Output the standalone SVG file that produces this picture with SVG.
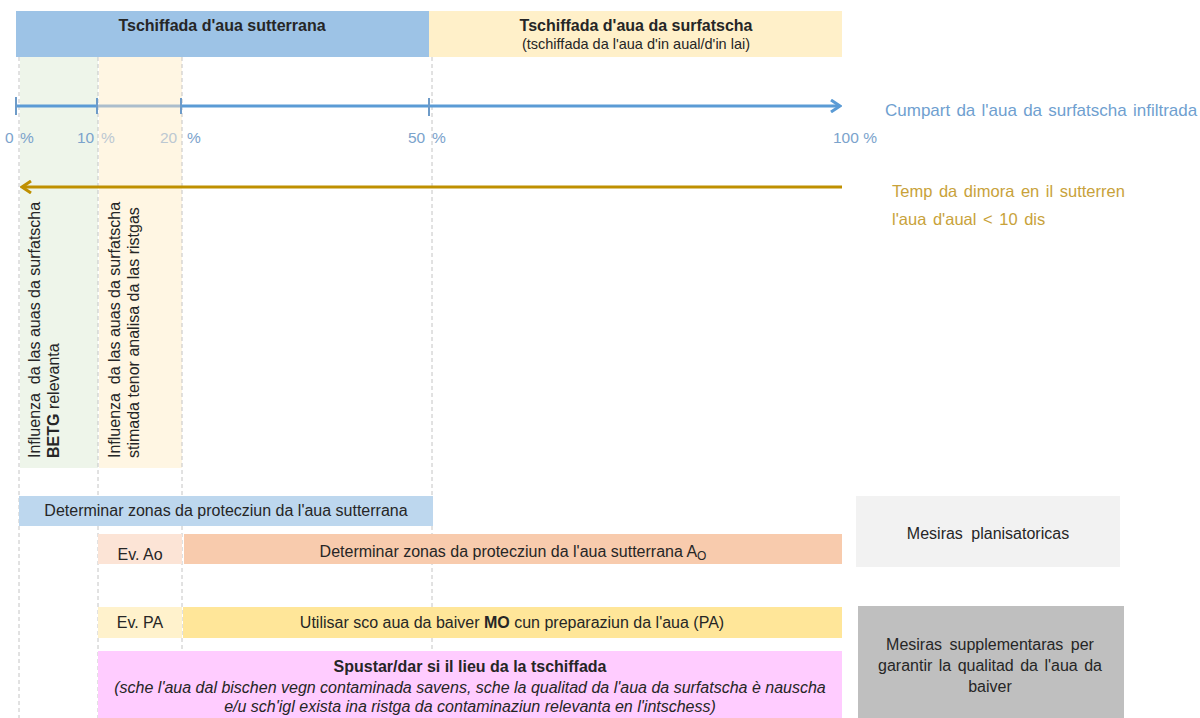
<svg xmlns="http://www.w3.org/2000/svg" width="1200" height="718" viewBox="0 0 1200 718">
<style>
text{font-family:"Liberation Sans",Arial,sans-serif;fill:#262626}
.t{font-size:16px}
.b{font-weight:bold}
.pct{font-size:15.5px;fill:#7BA3CC}
.pl{font-size:15.5px;fill:#BCC8D2}
.dash{stroke:#C4C4C4;stroke-width:1;stroke-dasharray:4 3;fill:none}
</style>
<defs>
<marker id="ab" markerWidth="12" markerHeight="14" refX="10" refY="7" orient="auto" markerUnits="userSpaceOnUse"><path d="M1,1 L10,7 L1,13" fill="none" stroke="#5B9BD5" stroke-width="3"/></marker>
<marker id="ag" markerWidth="12" markerHeight="14" refX="10" refY="7" orient="auto" markerUnits="userSpaceOnUse"><path d="M1,1 L10,7 L1,13" fill="none" stroke="#BF9000" stroke-width="3"/></marker>
</defs>
<rect width="1200" height="718" fill="#fff"/>
<g id="columns">
<rect x="20" y="57" width="78" height="411" fill="#EEF5EA"/>
<rect x="99" y="57" width="83" height="411" fill="#FFF6E3"/>
</g>
<g id="header-ground">
<rect x="16" y="11" width="413" height="46" fill="#9DC3E6"/>
<text x="222" y="31" text-anchor="middle" class="b" font-size="16">Tschiffada d'aua sutterrana</text>
</g>
<g id="header-surface">
<rect x="429" y="11" width="413" height="46" fill="#FFF0C9"/>
<text x="636" y="31" text-anchor="middle" class="b" font-size="16">Tschiffada d'aua da surfatscha</text>
<text x="636" y="49" text-anchor="middle" font-size="14.5">(tschiffada da l'aua d'in aual/d'in lai)</text>
</g>
<g id="gridlines">
<line class="dash" x1="19" y1="57" x2="19" y2="718"/>
<line class="dash" x1="98" y1="57" x2="98" y2="718"/>
<line class="dash" x1="182" y1="57" x2="182" y2="718"/>
<line class="dash" x1="432" y1="57" x2="432" y2="718"/>
</g>
<g id="connectors">
<line x1="16" y1="106" x2="97" y2="106" stroke="#5B9BD5" stroke-width="3"/>
<line x1="97" y1="106" x2="181" y2="106" stroke="#ABBDCC" stroke-width="3"/>
<line x1="181" y1="106" x2="840" y2="106" stroke="#5B9BD5" stroke-width="3" marker-end="url(#ab)"/>
<g stroke="#6E9BC8" stroke-width="2">
<line x1="16" y1="97" x2="16" y2="115"/>
<line x1="97" y1="98" x2="97" y2="114"/>
<line x1="181" y1="98" x2="181" y2="114"/>
<line x1="429" y1="98" x2="429" y2="116"/>
</g>
<line x1="842" y1="187" x2="22" y2="187" stroke="#BF9000" stroke-width="3" marker-end="url(#ag)"/>
</g>
<g id="percent-labels">
<text x="5" y="143" class="pct">0</text><text x="20" y="143" class="pct">%</text>
<text x="77" y="143" class="pct">10</text><text x="101" y="143" class="pl">%</text>
<text x="160" y="143" class="pl">20</text><text x="187" y="143" class="pct">%</text>
<text x="408" y="143" class="pct">50</text><text x="432" y="143" class="pct">%</text>
<text x="833" y="143" class="pct">100 %</text>
</g>
<g id="axis-labels">
<text x="885" y="116" font-size="17" style="fill:#6F9FD0" word-spacing="1.5">Cumpart da l'aua da surfatscha infiltrada</text>
<text x="892" y="197" font-size="16.5" style="fill:#C8A23A" word-spacing="2">Temp da dimora en il sutterren</text>
<text x="892" y="225" font-size="16.5" style="fill:#C8A23A" word-spacing="2">l'aua d'aual &lt; 10 dis</text>
</g>
<g id="col-green-text">
<text transform="translate(40,458) rotate(-90)" class="t">Influenza&#160; da las auas da surfatscha</text>
<text transform="translate(59,458) rotate(-90)" class="t"><tspan class="b">BETG</tspan> relevanta</text>
</g>
<g id="col-yellow-text">
<text transform="translate(120,458) rotate(-90)" class="t">Influenza&#160; da las auas da surfatscha</text>
<text transform="translate(139,458) rotate(-90)" class="t">stimada tenor analisa da las ristgas</text>
</g>
<g id="node-protect">
<rect x="19" y="496" width="414" height="30" fill="#BDD7EE"/>
<text x="226" y="516" text-anchor="middle" class="t">Determinar zonas da protecziun da l'aua sutterrana</text>
</g>
<g id="node-evao">
<rect x="98" y="534" width="84" height="30" fill="#FCE4D6"/>
<text x="140" y="560" text-anchor="middle" class="t">Ev. Ao</text>
</g>
<g id="node-protect-ao">
<rect x="184" y="534" width="658" height="30" fill="#F8CBAD"/>
<text x="513" y="557" text-anchor="middle" class="t">Determinar zonas da protecziun da l'aua sutterrana A<tspan font-size="12" dy="3">O</tspan></text>
</g>
<g id="node-planning">
<rect x="856" y="496" width="264" height="71" fill="#F2F2F2"/>
<text x="988" y="539" text-anchor="middle" class="t" word-spacing="4">Mesiras planisatoricas</text>
</g>
<g id="node-evpa">
<rect x="98" y="607" width="84" height="31" fill="#FFF2CC"/>
<text x="140" y="628" text-anchor="middle" class="t">Ev. PA</text>
</g>
<g id="node-pa">
<rect x="183" y="607" width="659" height="31" fill="#FFE699"/>
<text x="512" y="628" text-anchor="middle" class="t">Utilisar sco aua da baiver <tspan class="b">MO</tspan> cun preparaziun da l'aua (PA)</text>
</g>
<g id="node-move">
<rect x="98" y="651" width="744" height="67" fill="#FFCCFF"/>
<text x="470" y="672" text-anchor="middle" class="t b">Spustar/dar si il lieu da la tschiffada</text>
<text x="470" y="693" text-anchor="middle" class="t" font-style="italic">(sche l'aua dal bischen vegn contaminada savens, sche la qualitad da l'aua da surfatscha è nauscha</text>
<text x="470" y="712" text-anchor="middle" class="t" font-style="italic">e/u sch'igl exista ina ristga da contaminaziun relevanta en l'intschess)</text>
</g>
<g id="node-supplementary">
<rect x="858" y="606" width="266" height="112" fill="#BFBFBF"/>
<text x="990" y="650" text-anchor="middle" class="t" word-spacing="3">Mesiras supplementaras per</text>
<text x="990" y="671" text-anchor="middle" class="t" word-spacing="2">garantir la qualitad da l'aua da</text>
<text x="990" y="692" text-anchor="middle" class="t">baiver</text>
</g>
</svg>
